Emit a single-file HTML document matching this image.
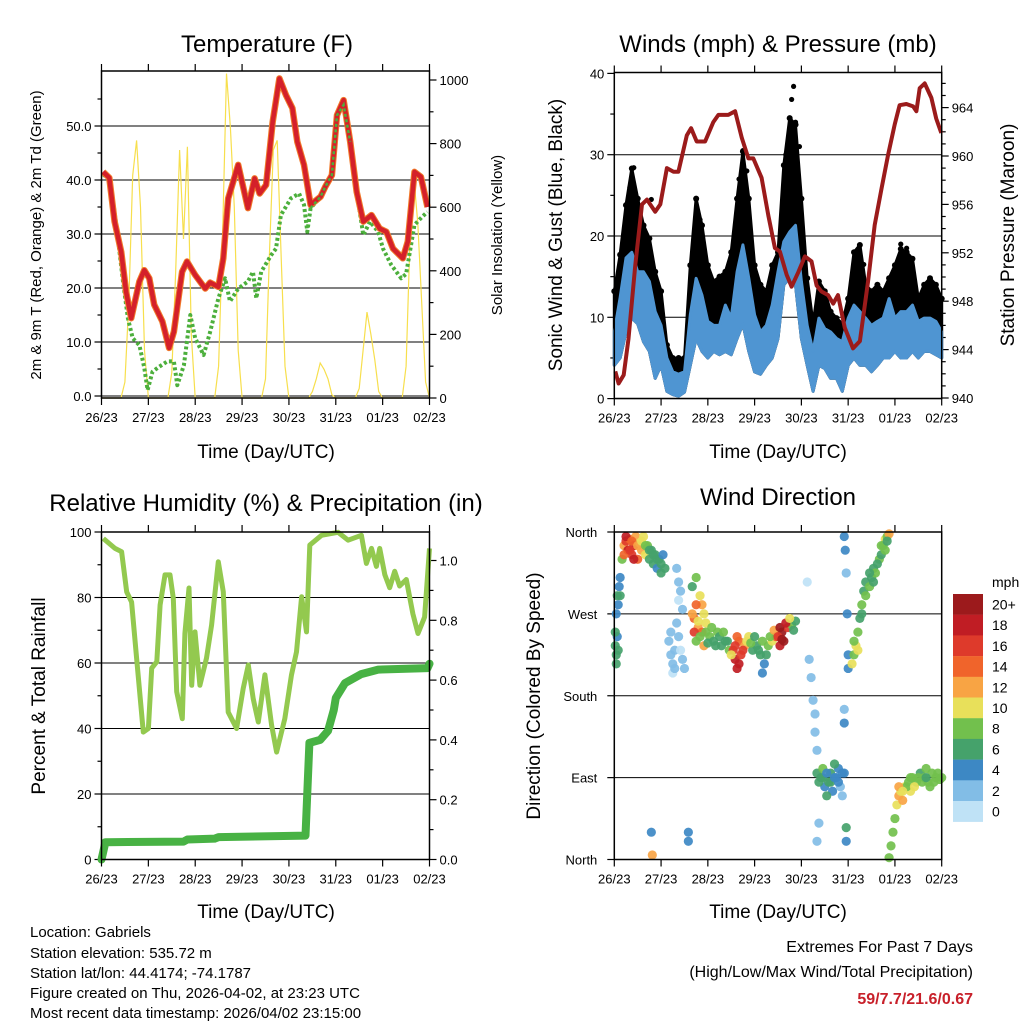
<!DOCTYPE html>
<html><head><meta charset="utf-8"><style>
html,body{margin:0;padding:0;background:#fff;}
svg{display:block;font-family:"Liberation Sans",Arial,sans-serif;}
</style></head><body>
<svg id="chart" width="1024" height="1024" viewBox="0 0 1024 1024" xmlns="http://www.w3.org/2000/svg">
<rect x="0" y="0" width="1024" height="1024" fill="#fff"/>
<text x="267" y="52" font-size="24" text-anchor="middle">Temperature (F)</text>
<text x="778" y="52" font-size="24" text-anchor="middle">Winds (mph) &amp; Pressure (mb)</text>
<text x="266" y="511" font-size="24" text-anchor="middle">Relative Humidity (%) &amp; Precipitation (in)</text>
<text x="778" y="505" font-size="24" text-anchor="middle">Wind Direction</text>
<text x="266" y="458" font-size="19" text-anchor="middle">Time (Day/UTC)</text>
<text x="778" y="458" font-size="19" text-anchor="middle">Time (Day/UTC)</text>
<text x="266" y="918" font-size="19" text-anchor="middle">Time (Day/UTC)</text>
<text x="778" y="918" font-size="19" text-anchor="middle">Time (Day/UTC)</text>
<text transform="translate(41,235) rotate(-90)" font-size="15" text-anchor="middle">2m &amp; 9m T (Red, Orange) &amp; 2m Td (Green)</text>
<text transform="translate(502,235) rotate(-90)" font-size="15" text-anchor="middle">Solar Insolation (Yellow)</text>
<text transform="translate(562,235) rotate(-90)" font-size="19" text-anchor="middle">Sonic Wind &amp; Gust (Blue, Black)</text>
<text transform="translate(1014,235) rotate(-90)" font-size="19" text-anchor="middle">Station Pressure (Maroon)</text>
<text transform="translate(45,696) rotate(-90)" font-size="19" text-anchor="middle">Percent &amp; Total Rainfall</text>
<text transform="translate(540,696) rotate(-90)" font-size="19" text-anchor="middle">Direction (Colored By Speed)</text>
<g font-size="15">
<text x="30" y="937">Location: Gabriels</text>
<text x="30" y="958">Station elevation: 535.72 m</text>
<text x="30" y="978">Station lat/lon: 44.4174; -74.1787</text>
<text x="30" y="998">Figure created on Thu, 2026-04-02, at 23:23 UTC</text>
<text x="30" y="1018">Most recent data timestamp: 2026/04/02 23:15:00</text>
</g>
<g font-size="16" text-anchor="end">
<text x="973" y="952">Extremes For Past 7 Days</text>
<text x="973" y="977">(High/Low/Max Wind/Total Precipitation)</text>
<text x="973" y="1004" fill="#c8202a" font-weight="bold">59/7.7/21.6/0.67</text>
</g>
<g id="layer"></g>
</svg>
<script>
// ---------- DATA ----------
const dayLabels = ["26/23","27/23","28/23","29/23","30/23","31/23","01/23","02/23"];
const solarHours = [0,2,4,6,8,10,12,14,16,18,20,22,24,26,28,30,32,34,36,38,40,42,44,46,48,50,52,54,56,58,60,62,64,66,68,70,72,74,76,78,80,82,84,86,88,90,92,94,96,98,100,102,104,106,108,110,112,114,116,118,120,122,124,126,128,130,132,134,136,138,140,142,144,146,148,150,152,154,156,158,160,162,164,166,168];
const solarVals = [0,0,0,0,0,0,50,300,700,810,600,150, 0,0,0,0,0,0,80,400,780,500,790,200, 0,0,0,0,0,0,100,500,1020,850,600,150, 0,0,0,0,0,0,60,450,780,810,450,100, 0,0,0,0,0,0,20,60,110,90,60,10, 0,0,0,0,0,0,30,150,270,200,120,20, 0,0,0,0,0,0,100,500,690,550,300,50, 0];
const tempHours = [0.8,4,6.7,10.1,12.6,15.2,19.4,21.9,24.5,27,31.2,34.6,37.1,41.3,43.8,48,53.1,55.6,59.9,62.4,64.9,70,75,78.4,81,84.3,87.7,91.1,94.5,97.8,100.3,103.7,107.1,112.2,114.7,118,120.6,124,127.4,130.7,134.1,138.3,142.5,145.9,149.3,154.3,156.9,160.3,163.6,167];
const tempF = [41.5,40.4,32.3,26.7,19.3,14.4,21.2,23.3,21.8,16.9,13.8,8.9,11.9,23,24.9,22.4,19.9,21,20.2,25.5,36.6,42.8,34.8,40.3,37.5,39.1,50.8,58.8,55.7,53.3,47.1,42.8,35.4,36.9,38.8,40.9,52,54.8,47.1,37.8,32.3,33.5,31,30.4,27.3,25.5,28.6,41.5,40.6,35];
const dewHours = [0.84,4.2,7.6,11,13.5,16,19.4,21.9,23.6,26.1,29.5,33.7,37.1,38.8,42.2,45.5,48,52.3,55.7,59.9,63.3,65.8,70,75,77.6,79.3,81.8,86.9,89.4,91.9,97,101.2,103.7,105.4,107.1,112.2,114.7,118,120.6,124,127.4,130.7,134.1,137.5,141.7,144.2,148.4,153.5,156,160.3,164.3,166.9];
const dewF = [40.9,40.6,31.7,21.2,14.4,10.7,9.4,5.2,1.1,4.5,5.4,6.4,6.4,2,5.7,15,10.7,7.6,11.9,18.1,21.8,17.5,19.9,21.2,23,18.1,23,26.1,27.3,33.5,36.6,37.5,35.4,30.4,34.8,36.9,38.8,40.9,52,53.9,47.1,37.8,29.8,32.3,30.4,27.3,24.3,21.8,22.6,31.7,33.2,34.1];
const presHours = [0.5,2.2,4.8,7.3,10.8,14.2,16.8,21,23.6,27,30.4,32.9,37.2,39.4,42.3,46.6,50.8,53.4,58.5,62,65.4,68.8,71.3,75.6,79,82.4,85,88.4,91,94.4,97.8,101.2,103.8,106.3,109.7,112.3,114.8,118.3,122.5,126,130.2,133.6,137.1,140.5,143.9,146.4,149.9,153.3,155,156.7,159.3,162.7,165.2,167.8];
const presMb = [942.2,941.2,941.9,944.9,951,956,956.4,955.4,956,959,958.7,958.7,961.7,962.3,961.2,961.2,962.8,963.4,963.4,963.7,961.5,959.8,959.8,958.2,955.1,952.4,952.1,950.2,949.2,950.4,951.7,951.3,949.3,948.8,948.5,947.8,948.5,945.8,944.1,944.7,949.6,954.3,957.3,960.1,962.6,964.2,964.3,964.1,963.7,965.6,966,964.8,963.1,961.9];
const windHours = [0,3,6,9,12,15,18,21,24,27,30,33,36,39,42,45,48,51,54,57,60,63,66,69,72,75,78,81,84,87,90,93,96,99,102,105,108,111,114,117,120,123,126,129,132,135,138,141,144,147,150,153,156,159,162,165,168];
const gustHi = [13.2,17.7,23.8,28.3,24.6,21.3,19.7,15.6,13.2,6.6,5,5,5,16.4,24.6,21.3,16.4,14.4,15,15.6,18,24.6,30.4,24.6,16.4,14,13.2,16.4,18,28.7,34.5,33.7,24.6,14.8,9.2,14.4,13.2,10.7,9.9,9.2,12.3,18,18.9,14,13.2,14,13.2,14.8,16.4,18.4,18,17.2,12.3,14,14.8,14,12.3];
const windHi = [8.2,12.4,17.3,18,15.6,15.6,14.4,10.7,9,5,3.3,3,3.3,10.3,14.8,12.7,9.5,9,9,11.5,9.9,15.6,18.9,14.8,10.3,8.2,9,11.5,15.6,19.3,20.5,21.3,14.4,9,5.8,9.9,8.6,8.2,7.4,7,9.9,11.5,10.7,9.9,9,9.5,9.9,12.3,9.9,10.7,10.7,11.5,9.5,9.9,9.9,9.5,8.2];
const windLo = [4.1,5,8.2,9.9,9.2,7,5.8,2.5,4.1,0.9,0.5,0.3,0.8,4.1,7.4,5.8,5,5.8,5.4,5.8,5.4,7.4,9.2,5.8,3.3,3,4.1,5,7.4,14,14.8,14,7.4,4.1,0.9,4.1,3.7,2.5,2.5,0.9,4.1,5,4.1,4.1,3.3,4.1,5,5,5.8,5,5,5.8,5,5.8,5.8,5.4,5];
const gustPeakHours = [8,10,19,42,44,64,66,68,88,90,91,92,93,95,128,147,150];
const gustPeaks = [26,28.4,24.5,24.5,22,27,30.5,28,30,33,36.8,38.4,34,31,16.5,19,18.5];
const rhHours = [0.9,6.9,10.3,12.9,15.4,18,21.4,24,25.7,28.3,30,32.5,35.1,36.8,38.5,41.4,42.7,44.8,46.2,47.9,50.4,53.8,56.4,59.8,62.4,64.9,69.2,72.6,75.2,77.7,80.3,83.7,87.1,89.7,93.9,97.3,99.9,102.5,105,106.7,112.7,121.2,126.3,133.1,135.7,138.3,140.8,142.5,145.1,147.6,150.2,152.7,156.1,159.5,162.1,165.5,168];
const rhVals = [98,95,94,81.7,78.6,61.5,38.9,40,58.4,60.4,77.7,86.9,86.9,79.8,51.2,43,69,82.9,53.2,69.5,53.2,61.5,71.6,90.9,81.7,45,40,52.2,59.4,49.1,42,56.4,41,32.8,43,56.4,63.4,80.2,69.5,96,99,99.9,97.5,99,90.4,95,89.5,95,87,83,88,83.5,85.5,75,69,74,95];
const precipHours = [0,2,42,44,58,60,104.5,106.5,112,116,119,120,124.7,133,141.7,167,168];
const precipIn = [0,0.058,0.06,0.067,0.07,0.075,0.08,0.39,0.4,0.43,0.5,0.54,0.59,0.62,0.635,0.64,0.655];
const dirHours = [0.5,1,1.5,2,2.5,3,1, 4,5,6,7,8,9,10,11,12,13,14,15,16,17,18,19,20,21,22,23,24,
 32,33,34,33,35, 28,29,30,31,33,35,36,30, 40,42,44,45,
 41,43,45,47,46,42, 49,51,53,55,57,59, 61,62,64,65,67,69,63, 71,73,75,77,76,79, 81,83,85,86,87,89,91,93,
 100,101,102,103,103,104,105,104, 104,106,107,108,110,111,112,114,115,116,117,113,109,118,
 118,118.5,119,119.5,120,120,118,118,119,119,
 122,123,124,125,126,127,128,129,131,132,133,134,136,137,138,139,140,141, 99,
 141,142,143,144,145,146,147,149,151,153,155,157,159,161,163,165,167,148,152,160,
 19.5,19,38,38,
 40,41,42,43,44,46,47,48,50,52,54,56,58,60,62,63,64,66,68,70,72,74,76,78,80,82,84,85,86,88,90,92,
 5,6,8,9,10,12,14,16,18,20,22,24,26,25,
 105,107,109,111,113,115,117,
 123,125,127,129,131,133,135,137,139,140,
 150,152,154,156,158,160,162,164,166,168,146,148,
 0.5,1,2,1.5,3, 29,31,34,32];
const dirDeg = [235,225,245,280,300,290,215, 330,345,350,340,352,335,345,355,330,348,340,355,335,345,330,340,325,335,320,330,315,
 320,305,295,285,275, 240,225,215,230,245,220,210,205, 300,310,290,280,
 265,255,250,260,235,240, 245,240,250,235,240,230, 230,220,240,225,235,245,210, 230,235,225,215,205,235, 240,245,235,250,240,255,258,262,
 220,200,175,160,140,120,40,20, 95,90,100,80,85,95,75,90,100,80,70,105,70,95,
 355,340,315,270,225,210,165,150,35,20,
 215,225,235,250,265,280,295,305,300,310,320,315,330,335,345,352,355,358, 305,
 2,15,30,45,60,70,75,80,85,90,85,95,90,85,95,90,88,65,75,100,
 5,30,30,20,
 270,250,280,262,245,270,250,238,255,235,245,250,240,225,235,245,215,230,240,238,245,230,240,225,245,252,245,255,242,260,265,252,
 335,355,340,350,330,345,350,345,340,335,330,325,320,335,
 85,90,95,85,90,85,95,
 240,230,270,290,315,305,325,345,340,350,
 80,90,80,90,85,90,80,85,95,90,80,75,
 250,270,230,290,310, 250,210,230,260];
const dirSpeed = [6,6,4,4,4,6,6, 8,12,16,18,14,16,18,12,14,10,12,10,10,8,6,6,6,6,4,6,6,
 2,2,2,0,2, 2,2,2,2,2,2,2,0, 6,8,10,12,
 14,12,14,10,12,8, 8,6,8,6,6,8, 16,18,14,16,12,10,18, 6,6,6,4,4,8, 10,14,18,20,20,16,8,6,
 2,2,2,2,2,2,2,2, 6,6,8,4,6,6,4,4,4,2,2,6,6,4,
 4,4,2,4,4,4,2,4,6,4,
 10,8,10,8,6,8,6,6,8,6,6,8,8,6,8,10,8,12, 0,
 8,8,8,8,10,12,10,10,8,8,8,6,8,8,8,8,8,12,10,8,
 12,4,4,4,
 12,16,14,10,8,10,8,6,8,6,6,8,6,10,16,14,18,16,10,8,6,6,8,6,8,12,16,20,20,18,10,6,
 14,18,16,14,18,12,10,8,6,6,6,6,6,4,
 6,6,4,6,4,4,4,
 8,10,6,8,6,6,6,8,8,6,
 8,8,10,8,8,6,8,8,8,8,12,10,
 6,4,6,6,4, 2,2,0,2];
const speedBins = ["0","2","4","6","8","10","12","14","16","18","20+"];
const speedColors = ["#bfe2f6","#82bde6","#3d88c4","#45a26b","#72c04d","#e8e05a","#f8a444","#f0642b","#de3a2b","#c01d24","#9c1a1c"];

// ---------- HELPERS ----------
const NS = "http://www.w3.org/2000/svg";
const layer = document.getElementById("layer");
function mk(tag, attrs, parent) {
  const el = document.createElementNS(NS, tag);
  for (const k in attrs) el.setAttribute(k, attrs[k]);
  (parent || layer).appendChild(el);
  return el;
}
function txt(x, y, s, size, anchor, parent) {
  const el = mk("text", {x: x, y: y, "font-size": size, "text-anchor": anchor}, parent);
  el.textContent = s;
  return el;
}
function linePath(xs, ys, fx, fy) {
  let d = "";
  for (let i = 0; i < xs.length; i++) d += (i ? "L" : "M") + fx(xs[i]).toFixed(1) + "," + fy(ys[i]).toFixed(1);
  return d;
}
function bandPath(xs, lo, hi, fx, fy) {
  let d = "";
  for (let i = 0; i < xs.length; i++) d += (i ? "L" : "M") + fx(xs[i]).toFixed(1) + "," + fy(hi[i]).toFixed(1);
  for (let i = xs.length - 1; i >= 0; i--) d += "L" + fx(xs[i]).toFixed(1) + "," + fy(lo[i]).toFixed(1);
  return d + "Z";
}

function panel(name, x0, x1, y0, y1) {
  const g = mk("g", {});
  
  
  const fx = h => x0 + (x1 - x0) * h / 168;
  return {g: g, x0: x0, x1: x1, y0: y0, y1: y1, fx: fx};
}
function frame(p, name) {
  const r = mk("rect", {x: p.x0, y: p.y0, width: p.x1 - p.x0, height: p.y1 - p.y0, fill: "none", stroke: "#000", "stroke-width": 1.5}, p.g);
  
  
  const ax = mk("g", {stroke: "#000", "stroke-width": 1.2}, p.g);
  
  
  for (let i = 0; i < dayLabels.length; i++) {
    const x = p.fx(i * 24);
    mk("line", {x1: x, y1: p.y1, x2: x, y2: p.y1 + 7}, ax);
    mk("line", {x1: x, y1: p.y0, x2: x, y2: p.y0 - 7}, ax);
    const t = txt(x, p.y1 + 24, dayLabels[i], 13, "middle", p.g);
    
    
  }
}
function yAxis(p, side, fy, vmin, vmax, major, minor, fmt, grid, name) {
  const ax = mk("g", {stroke: "#000", "stroke-width": 1.2}, p.g);
  
  
  const xe = side === "left" ? p.x0 : p.x1, dir = side === "left" ? -1 : 1;
  for (let v = vmin; v <= vmax + 1e-9; v += minor) {
    const y = fy(v);
    if (y < p.y0 - 0.8 || y > p.y1 + 0.8) continue;
    const isMaj = Math.abs(Math.round((v - vmin) / major) * major - (v - vmin)) < 1e-6;
    mk("line", {x1: xe, y1: y, x2: xe + dir * (isMaj ? 7 : 4), y2: y}, ax);
    if (isMaj) {
      if (grid && y > p.y0 + 3) {
        const gl = mk("line", {x1: p.x0, y1: y, x2: p.x1, y2: y, stroke: "#000", "stroke-width": 1}, p.g);
        
        
      }
      const t = txt(xe + dir * 10, y + 5, fmt(v), 13, side === "left" ? "end" : "start", p.g);
      
      
    }
  }
}

// ---------- PANEL 1: TEMPERATURE ----------
const p1 = panel("temperature", 101.5, 429.5, 71, 398);
const t1 = v => 396 - v * 5.4;
const s1 = v => 398 - v * 0.318;
yAxis(p1, "left", t1, 0, 58, 10, 5, v => v.toFixed(1), true, "temperature-y-axis");
yAxis(p1, "right", s1, 0, 1000, 200, 100, v => String(v), false, "solar-y-axis");
const solar = mk("path", {d: linePath(solarHours, solarVals, p1.fx, s1), fill: "none", stroke: "#f7df4d", "stroke-width": 1.2}, p1.g);


const dew = mk("path", {d: linePath(dewHours, dewF, p1.fx, t1), fill: "none", stroke: "#4caf3c", "stroke-width": 4, "stroke-dasharray": "3 2.5", "stroke-linejoin": "round"}, p1.g);


const t9 = mk("path", {d: linePath(tempHours, tempF, p1.fx, t1), fill: "none", stroke: "#f07a2a", "stroke-width": 6.5, "stroke-linejoin": "round"}, p1.g);


const t2 = mk("path", {d: linePath(tempHours, tempF, p1.fx, t1), fill: "none", stroke: "#d4202a", "stroke-width": 4.5, "stroke-linejoin": "round"}, p1.g);


const dew2 = mk("path", {d: linePath(dewHours.slice(34, 41), dewF.slice(34, 41), p1.fx, t1), fill: "none", stroke: "#4caf3c", "stroke-width": 2.5, "stroke-dasharray": "3 2.5"}, p1.g);


frame(p1, "temperature");

// ---------- PANEL 2: WINDS ----------
const p2 = panel("winds", 614.3, 941.7, 72.5, 398.5);
const w2 = v => 398.6 - v * 8.13;
const pr2 = v => 398 - (v - 940) * 12.1;
yAxis(p2, "left", w2, 0, 40, 10, 5, v => String(v), true, "wind-y-axis");
yAxis(p2, "right", pr2, 940, 966, 4, 1, v => String(v), false, "pressure-y-axis");
const gb = mk("path", {d: bandPath(windHours, windLo, gustHi, p2.fx, w2), fill: "#000", stroke: "#000", "stroke-width": 3, "stroke-linejoin": "round"}, p2.g);


for (let i = 0; i < windHours.length; i++) {
  const c = mk("circle", {cx: p2.fx(windHours[i]), cy: w2(gustHi[i]) , r: 3}, p2.g);
  
  
}
for (let i = 0; i < gustPeakHours.length; i++) {
  const c = mk("circle", {cx: p2.fx(gustPeakHours[i]), cy: w2(gustPeaks[i]), r: 2.6}, p2.g);
  
  
}
const wb = mk("path", {d: bandPath(windHours, windLo, windHi, p2.fx, w2), fill: "#4f95d2", stroke: "#4f95d2", "stroke-width": 3, "stroke-linejoin": "round"}, p2.g);


const pl = mk("path", {d: linePath(presHours, presMb, p2.fx, pr2), fill: "none", stroke: "#9b1b1b", "stroke-width": 4, "stroke-linejoin": "round"}, p2.g);


frame(p2, "winds");

// ---------- PANEL 3: HUMIDITY ----------
const p3 = panel("humidity", 101.5, 429.5, 532, 859.5);
const h3 = v => 859.5 - v * 3.275;
const r3 = v => 859.5 - v * 299;
yAxis(p3, "left", h3, 0, 100, 20, 10, v => String(v), true, "humidity-y-axis");
yAxis(p3, "right", r3, 0, 1.09, 0.2, 0.1, v => v.toFixed(1), false, "precip-y-axis");
const rh = mk("path", {d: linePath(rhHours, rhVals, p3.fx, h3), fill: "none", stroke: "#93c94f", "stroke-width": 5, "stroke-linejoin": "round"}, p3.g);


const pc = mk("path", {d: linePath(precipHours, precipIn, p3.fx, r3), fill: "none", stroke: "#48b244", "stroke-width": 8, "stroke-linejoin": "round", "stroke-linecap": "round"}, p3.g);


frame(p3, "humidity");

// ---------- PANEL 4: WIND DIRECTION ----------
const p4 = panel("wind-direction", 614.3, 941.7, 532, 859.5);
const d4 = v => 859.5 - v * 327.5 / 360;
const dirNames = ["North","East","South","West","North"];
const dax = mk("g", {stroke: "#000", "stroke-width": 1.2}, p4.g);


for (let i = 0; i < dirNames.length; i++) {
  const y = d4(i * 90);
  mk("line", {x1: p4.x0, y1: y, x2: p4.x0 - 7, y2: y}, dax);
  if (i > 0 && i < 4) {
    const gl = mk("line", {x1: p4.x0, y1: y, x2: p4.x1, y2: y, stroke: "#000", "stroke-width": 1}, p4.g);
    
    
  }
  const t = txt(p4.x0 - 17, y + 5, dirNames[i], 13, "end", p4.g);
  
  
}
for (let i = 0; i < dirHours.length; i++) {
  const bin = Math.min(10, Math.round(dirSpeed[i] / 2));
  const c = mk("circle", {cx: p4.fx(dirHours[i]), cy: d4(dirDeg[i]), r: 4.6, fill: speedColors[bin], "fill-opacity": 0.92}, p4.g);
  
  
}
frame(p4, "wind-direction");

// ---------- COLORBAR ----------
const cb = mk("g", {});


const cbt = txt(992, 587, "mph", 14, "start", cb);


for (let i = 0; i < speedBins.length; i++) {
  const k = speedBins.length - 1 - i;
  const y = 594 + i * 20.7;
  const rr = mk("rect", {x: 953, y: y, width: 30, height: 20.9, fill: speedColors[k]}, cb);
  
  
  const t = txt(992, y + 15.5, speedBins[k], 14, "start", cb);
  
  
}
</script>
</body></html>
